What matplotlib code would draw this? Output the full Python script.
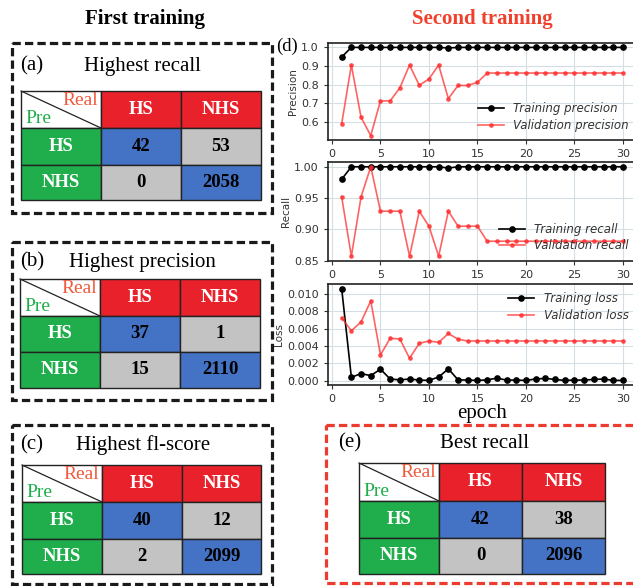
import matplotlib.pyplot as plt
from matplotlib.patches import Rectangle

# ---- data ----
epochs = list(range(1, 31))

train_precision = [0.948, 1.0, 1.0, 1.0, 1.0, 1.0, 1.0, 1.0, 1.0, 1.0,
                   1.0, 0.997, 1.0, 1.0, 1.0, 1.0, 1.0, 1.0, 1.0, 1.0,
                   1.0, 1.0, 1.0, 1.0, 1.0, 1.0, 1.0, 1.0, 1.0, 1.0]
val_precision = [0.588, 0.905, 0.623, 0.525, 0.712, 0.712, 0.782, 0.905, 0.796, 0.830,
                 0.905, 0.724, 0.795, 0.795, 0.812, 0.862, 0.862, 0.862, 0.862, 0.862,
                 0.862, 0.862, 0.862, 0.862, 0.862, 0.862, 0.862, 0.862, 0.862, 0.862]

train_recall = [0.980, 1.0, 1.0, 1.0, 1.0, 1.0, 1.0, 1.0, 1.0, 1.0,
                1.0, 0.998, 1.0, 1.0, 1.0, 1.0, 1.0, 1.0, 1.0, 1.0,
                1.0, 1.0, 1.0, 1.0, 1.0, 1.0, 1.0, 1.0, 1.0, 1.0]
val_recall = [0.952, 0.857, 0.952, 1.0, 0.929, 0.929, 0.929, 0.857, 0.929, 0.905,
              0.857, 0.929, 0.905, 0.905, 0.905, 0.881, 0.881, 0.881, 0.881, 0.881,
              0.881, 0.881, 0.881, 0.881, 0.881, 0.881, 0.881, 0.881, 0.881, 0.881]

train_loss = [0.01059, 0.00040, 0.00082, 0.00059, 0.00133, 0.00020, 0.00010, 0.00020, 0.00008, 0.00004,
              0.00043, 0.00137, 0.00010, 0.00008, 0.00004, 0.00010, 0.00030, 0.00008, 0.00008, 0.00004,
              0.00020, 0.00027, 0.00015, 0.00004, 0.00008, 0.00008, 0.00015, 0.00020, 0.00004, 0.00004]
val_loss = [0.00723, 0.00574, 0.00676, 0.00918, 0.00297, 0.00488, 0.00480, 0.00258, 0.00430, 0.00457,
            0.00441, 0.00543, 0.00477, 0.00457, 0.00457, 0.00457, 0.00457, 0.00457, 0.00457, 0.00457,
            0.00457, 0.00457, 0.00457, 0.00457, 0.00457, 0.00457, 0.00457, 0.00457, 0.00457, 0.00457]

precision_ticks = [0.6, 0.7, 0.8, 0.9, 1.0]
recall_ticks = [0.85, 0.90, 0.95, 1.00]
loss_ticks = [0.000, 0.002, 0.004, 0.006, 0.008, 0.010]
epoch_ticks = [0, 5, 10, 15, 20, 25, 30]

class_labels = ['HS', 'NHS']
cm_a = [[42, 53], [0, 2058]]
cm_b = [[37, 1], [15, 2110]]
cm_c = [[40, 12], [2, 2099]]
cm_e = [[42, 38], [0, 2096]]

# ---- style ----
SERIF = 'Liberation Serif'
RED_HEAD = '#e8212b'
GREEN = '#20ad4b'
BLUE = '#4472c4'
GRAY = '#c3c3c3'
TITLE_RED = '#f0402c'

W, H = 633, 586
fig = plt.figure(figsize=(W / 100, H / 100), dpi=100)

# overlay in pixel coordinates for the boxes and tables
ov = fig.add_axes([0, 0, 1, 1])
ov.set_xlim(0, W)
ov.set_ylim(H, 0)
ov.axis('off')


def dashed_box(x0, y0, x1, y1, color):
    ov.add_patch(Rectangle((x0, y0), x1 - x0, y1 - y0, fill=False, edgecolor=color,
                           lw=2.3, linestyle=(0, (2.6, 1.3)), clip_on=False))


def draw_matrix(cm, x0, y0, col_w, row_h):
    # corner cell with the diagonal split
    ov.add_patch(Rectangle((x0, y0), col_w[0], row_h[0], facecolor='white', edgecolor='#222', lw=1))
    ov.plot([x0, x0 + col_w[0]], [y0, y0 + row_h[0]], color='#222', lw=0.9)
    ov.text(x0 + col_w[0] - 3, y0 + 1, 'Real', color='#f05a3c', family=SERIF,
            fontsize=14, ha='right', va='top')
    ov.text(x0 + 4, y0 + row_h[0] - 1, 'Pre', color=GREEN, family=SERIF,
            fontsize=14, ha='left', va='bottom')
    xs = [x0, x0 + col_w[0], x0 + col_w[0] + col_w[1]]
    ys = [y0, y0 + row_h[0], y0 + row_h[0] + row_h[1]]
    for j, lab in enumerate(class_labels):
        ov.add_patch(Rectangle((xs[j + 1], y0), col_w[j + 1], row_h[0], facecolor=RED_HEAD,
                               edgecolor='#222', lw=1))
        ov.text(xs[j + 1] + col_w[j + 1] / 2, y0 + row_h[0] / 2, lab, color='white',
                family=SERIF, fontsize=13.5, weight='bold', ha='center', va='center')
        ov.add_patch(Rectangle((x0, ys[j + 1]), col_w[0], row_h[j + 1], facecolor=GREEN,
                               edgecolor='#222', lw=1))
        ov.text(x0 + col_w[0] / 2, ys[j + 1] + row_h[j + 1] / 2, lab, color='white',
                family=SERIF, fontsize=13.5, weight='bold', ha='center', va='center')
    for i in range(2):
        for j in range(2):
            fc = BLUE if i == j else GRAY
            ov.add_patch(Rectangle((xs[j + 1], ys[i + 1]), col_w[j + 1], row_h[i + 1],
                                   facecolor=fc, edgecolor='#222', lw=1))
            ov.text(xs[j + 1] + col_w[j + 1] / 2, ys[i + 1] + row_h[i + 1] / 2, str(cm[i][j]),
                    color='black', family=SERIF, fontsize=13.5, weight='bold',
                    ha='center', va='center')


# column titles
ov.text(145, 19, 'First training', family=SERIF, fontsize=15, weight='bold',
        ha='center', va='center')
ov.text(482, 19, 'Second training', family=SERIF, fontsize=15, weight='bold',
        color=TITLE_RED, ha='center', va='center')

# (a)
dashed_box(12, 43, 272, 213, '#1a1a1a')
ov.text(20, 66, '(a)', family=SERIF, fontsize=15, ha='left', va='center')
ov.text(142, 66, 'Highest recall', family=SERIF, fontsize=15, ha='center', va='center')
draw_matrix(cm_a, 21, 91, [80, 80, 80], [37, 37, 35])

# (b)
dashed_box(12, 242, 272, 400, '#1a1a1a')
ov.text(20, 262, '(b)', family=SERIF, fontsize=15, ha='left', va='center')
ov.text(142, 262, 'Highest precision', family=SERIF, fontsize=15, ha='center', va='center')
draw_matrix(cm_b, 20, 279, [80, 80, 80], [37, 36, 36])

# (c)
dashed_box(12, 425, 272, 584, '#1a1a1a')
ov.text(20, 445, '(c)', family=SERIF, fontsize=15, ha='left', va='center')
ov.text(143, 445, 'Highest fl-score', family=SERIF, fontsize=15, ha='center', va='center')
draw_matrix(cm_c, 22, 465, [80, 80, 79], [37, 37, 35])

# (e)
dashed_box(326, 425, 640, 583, '#ee3b2f')
ov.text(338, 443, '(e)', family=SERIF, fontsize=15, ha='left', va='center')
ov.text(485, 443, 'Best recall', family=SERIF, fontsize=15, ha='center', va='center')
draw_matrix(cm_e, 359, 463, [80, 83, 83], [38, 37, 36])

# (d) label
ov.text(276, 46, '(d)', family=SERIF, fontsize=13.5, ha='left', va='center')

# ---- line plots ----
left, width = 327.6 / W, 309.4 / W
panels = [
    (43, 140, 'Precision', train_precision, val_precision, precision_ticks, '%.1f',
     'Training precision', 'Validation precision', 'lower right'),
    (162.3, 260.7, 'Recall', train_recall, val_recall, recall_ticks, '%.2f',
     'Training recall', 'Validation recall', 'lower right'),
    (284, 385, 'Loss', train_loss, val_loss, loss_ticks, '%.3f',
     'Training loss', 'Validation loss', 'upper right'),
]
for top, bot, ylab, tr, va, yticks, fmt, tr_lab, va_lab, loc in panels:
    ax = fig.add_axes([left, 1 - bot / H, width, (bot - top) / H])
    ax.plot(epochs, tr, color='black', marker='o', ms=3.8, lw=1.2, label=tr_lab)
    ax.plot(epochs, va, color='#ff3030', alpha=0.75, marker='o', ms=2.4, lw=1.2, label=va_lab)
    ax.grid(True, color='#d5dde5', lw=0.8)
    ax.set_axisbelow(True)
    for s in ax.spines.values():
        s.set_color('#222')
        s.set_linewidth(1.2)
    ax.tick_params(labelsize=8, colors='#333', length=3, width=0.8)
    ax.set_xticks(epoch_ticks)
    ax.set_yticks(yticks)
    ax.yaxis.set_major_formatter(plt.FormatStrFormatter(fmt))
    ax.set_ylabel(ylab, fontsize=7.5, color='#333', labelpad=2)
    leg = ax.legend(loc=loc, frameon=False, handlelength=2.2,
                    borderaxespad=0.3, labelspacing=0.3,
                    prop={'style': 'italic', 'size': 8.5})
    for t in leg.get_texts():
        t.set_color('#333')
    if ylab == 'Loss':
        ax.set_xlabel('epoch', family=SERIF, fontsize=15, labelpad=0)

fig.savefig('out.png', dpi=100)
